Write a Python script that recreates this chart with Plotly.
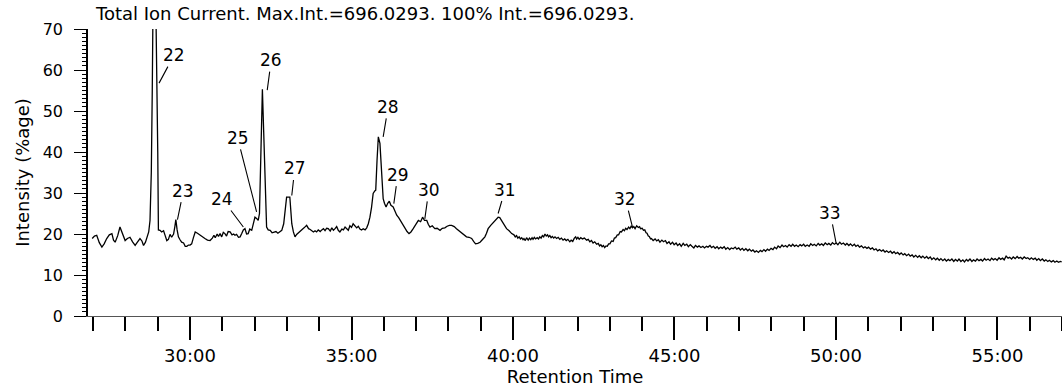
import plotly.graph_objects as go

# ---- data (time in minutes, intensity in %) ----
time_a = [
    26.97, 27.04, 27.11, 27.19, 27.27, 27.34, 27.42, 27.50, 27.58, 27.63, 27.68, 27.76, 27.83, 27.91, 27.99,
    28.06, 28.14, 28.22, 28.30, 28.37, 28.45, 28.51, 28.56, 28.62, 28.68, 28.72, 28.76, 28.80, 28.83, 28.86,
    28.88, 28.92, 28.95, 28.98, 29.00, 29.02, 29.07, 29.12, 29.18, 29.23, 29.28, 29.33, 29.38, 29.43, 29.49,
    29.53, 29.56, 29.60, 29.64, 29.69, 29.74, 29.80, 29.85, 29.90, 29.95, 30.00, 30.05, 30.10, 30.16, 30.23,
    30.31, 30.38, 30.46, 30.54, 30.62, 30.69, 30.74, 30.78, 30.84, 30.88, 30.93, 30.98, 31.03, 31.08, 31.13,
    31.18, 31.24, 31.30, 31.35, 31.39, 31.44, 31.50, 31.55, 31.60, 31.65, 31.70, 31.75, 31.80, 31.85, 31.91,
    31.96, 32.01, 32.06, 32.11, 32.15, 32.19, 32.24, 32.28, 32.31, 32.34, 32.37, 32.42, 32.48, 32.54, 32.60,
    32.66, 32.72, 32.78, 32.84, 32.90, 32.94, 32.98, 32.99, 33.09, 33.12, 33.15, 33.20, 33.25, 33.30, 33.36,
    33.41, 33.47, 33.53, 33.61, 33.67, 33.72, 33.77, 33.82, 33.87, 33.92, 33.97, 34.03, 34.08, 34.13, 34.18,
    34.23, 34.28, 34.34, 34.39, 34.44, 34.49, 34.54, 34.59, 34.64, 34.70, 34.75, 34.80, 34.85, 34.90, 34.95,
    35.00, 35.05, 35.10, 35.16, 35.21, 35.26, 35.31, 35.36, 35.42, 35.47, 35.52, 35.57, 35.62, 35.67, 35.72,
    35.75, 35.79, 35.83, 35.88, 35.91, 35.93, 35.98, 36.02, 36.07, 36.12, 36.17, 36.22, 36.29, 36.35, 36.40,
    36.46, 36.52, 36.55, 36.60, 36.65, 36.72, 36.78, 36.84, 36.91, 36.98, 37.07, 37.14, 37.20, 37.26, 37.33,
    37.38, 37.43, 37.50, 37.58, 37.65, 37.74, 37.81, 37.89, 37.96, 38.03, 38.10, 38.18, 38.25, 38.33, 38.41,
    38.49, 38.56, 38.64, 38.72, 38.78, 38.84, 38.91, 38.98, 39.05, 39.13, 39.18, 39.23, 39.31, 39.39, 39.46,
    39.54, 39.59, 39.65, 39.72, 39.80, 39.88, 39.96,
]
intensity_a = [
    18.9, 19.5, 19.7, 17.9, 16.8, 17.6, 18.9, 19.8, 20.1, 18.5, 18.0, 19.6, 21.7, 19.8, 18.4,
    18.9, 19.2, 18.1, 17.2, 18.0, 18.9, 18.3, 17.2, 18.0, 19.3, 20.5, 23.3, 35.0, 55.0, 85.0,
    100.0, 95.0, 70.0, 57.0, 40.0, 21.0, 20.9, 20.5, 20.8, 19.6, 18.4, 18.7, 19.9, 19.2, 20.0,
    21.8, 23.5, 21.0, 19.3, 18.6, 18.0, 17.8, 17.0, 17.0, 17.3, 17.3, 17.6, 19.0, 20.5, 20.2,
    19.7, 19.2, 18.9, 18.5, 18.4, 19.0, 19.7, 19.1, 20.0, 19.4, 20.1, 19.3, 20.4, 20.1, 19.5,
    20.6, 20.5, 19.8, 20.0, 19.7, 19.9, 19.2, 19.3, 20.1, 21.0, 21.3, 20.0, 20.1, 21.2, 20.9,
    22.5, 24.1, 23.8, 23.3, 25.0, 38.0, 55.3, 45.0, 36.4, 28.0, 21.7, 21.0, 20.9, 20.3, 20.5,
    20.6, 20.2, 20.5, 20.9, 22.5, 25.0, 28.5, 29.0, 29.0, 26.0, 22.5, 20.5, 19.3, 19.9, 20.3,
    20.5, 21.0, 21.5, 22.1, 21.3, 21.1, 20.9, 20.5, 20.8, 20.5, 21.0, 20.6, 21.0, 21.3, 20.8,
    21.4, 21.3, 20.7, 21.5, 20.9, 21.3, 21.8, 20.9, 20.5, 21.2, 21.0, 21.7, 21.3, 20.9, 22.0,
    21.6, 22.5, 22.0, 21.5, 21.9, 21.2, 21.0, 21.3, 21.0, 21.5, 22.5, 24.1, 26.5, 29.9, 30.5,
    30.7, 38.0, 43.7, 42.1, 37.0, 33.9, 28.6, 27.5, 26.6, 27.5, 28.0, 27.0, 26.6, 25.5, 24.6,
    24.0, 23.2, 22.9, 22.0, 21.3, 20.6, 20.1, 20.5, 21.3, 22.3, 23.3, 23.0, 24.1, 23.3, 23.3,
    22.3, 21.7, 22.0, 21.3, 21.4, 20.9, 21.4, 21.5, 21.9, 22.1, 22.1, 21.8, 21.3, 20.8, 20.1,
    19.7, 19.3, 19.2, 18.9, 18.2, 17.6, 17.7, 18.0, 18.6, 19.3, 20.2, 21.3, 22.1, 22.9, 23.5,
    24.1, 24.0, 23.3, 22.2, 21.3, 20.8, 20.1,
]

time_b = [
    40.03, 40.07, 40.11, 40.15, 40.19, 40.23, 40.27, 40.31, 40.34, 40.38,
    40.42, 40.47, 40.51, 40.55, 40.59, 40.62, 40.66, 40.70, 40.75, 40.79,
    40.83, 40.87, 40.91, 40.95, 40.99, 41.03, 41.07, 41.10, 41.14, 41.18,
    41.22, 41.26, 41.30, 41.35, 41.40, 41.45, 41.50, 41.55, 41.60, 41.65,
    41.70, 41.76, 41.80, 41.85, 41.90, 41.94, 41.97, 42.01, 42.05, 42.10,
    42.15, 42.21, 42.28, 42.33, 42.38, 42.43, 42.48, 42.53, 42.59, 42.64,
    42.68, 42.72, 42.76, 42.80, 42.84, 42.88, 42.92, 42.96, 43.00, 43.05,
    43.10, 43.14, 43.18, 43.23, 43.27, 43.32, 43.36, 43.41, 43.45, 43.49,
    43.53, 43.58, 43.62, 43.66, 43.70, 43.74, 43.78, 43.83, 43.88, 43.92,
    43.95, 44.00, 44.04, 44.08, 44.12, 44.15, 44.19, 44.22, 44.26,
]
intensity_b = [
    19.8, 19.3, 19.6, 19.0, 19.3, 18.8, 19.1, 18.6, 18.9, 18.4,
    19.1, 18.5, 19.0, 18.6, 19.1, 18.7, 19.2, 18.8, 19.1, 18.8,
    19.3, 19.0, 19.6, 19.3, 20.0, 19.5, 19.8, 19.3, 19.6, 19.1,
    19.4, 19.0, 19.3, 18.9, 19.2, 18.7, 19.0, 18.5, 18.8, 18.4,
    18.7, 18.1, 18.5, 18.2, 19.0, 19.3, 18.8, 19.2, 18.7, 19.1,
    18.8, 19.0, 18.5, 18.7, 18.1, 18.4, 17.8, 18.1, 17.5, 17.7,
    17.1, 17.4, 16.9, 17.2, 16.7, 17.1, 17.0, 17.6, 17.6, 18.3,
    18.2, 19.0, 19.1, 19.8, 19.8, 20.6, 20.5, 21.1, 20.8, 21.4,
    21.1, 21.7, 21.3, 21.9, 21.5, 21.8, 21.3, 22.0, 21.6, 21.8,
    21.3, 21.4, 20.9, 21.0, 20.3, 20.2, 19.5, 19.4, 18.8,
]

time_c = [
    44.29, 44.34, 44.40, 44.45, 44.50, 44.55, 44.61, 44.66, 44.72, 44.77,
    44.83, 44.88, 44.94, 44.99, 45.05, 45.10, 45.16, 45.21, 45.27, 45.32,
    45.38, 45.43, 45.49, 45.54, 45.60, 45.65, 45.71, 45.76, 45.82, 45.88,
    45.93, 45.99, 46.04, 46.10, 46.15, 46.21, 46.26, 46.32, 46.37, 46.43,
    46.48, 46.54, 46.59, 46.65, 46.71, 46.76, 46.82, 46.88, 46.93, 46.99,
    47.04, 47.10, 47.15, 47.21, 47.27, 47.32, 47.38, 47.43, 47.49, 47.54,
    47.60, 47.66, 47.71, 47.77, 47.82, 47.88, 47.93, 47.99, 48.05, 48.10,
    48.16, 48.21, 48.27, 48.33, 48.38, 48.44, 48.49, 48.55, 48.61, 48.66,
    48.72, 48.77, 48.83, 48.89, 48.94, 49.00, 49.05, 49.11, 49.17, 49.22,
    49.28, 49.33, 49.39, 49.45, 49.50, 49.56, 49.61, 49.67, 49.73, 49.78,
    49.84, 49.89, 49.95, 50.01, 50.06, 50.12, 50.17, 50.23, 50.29, 50.34,
    50.40, 50.45, 50.51, 50.57, 50.62, 50.68, 50.73, 50.79, 50.85, 50.90,
    50.96, 51.01, 51.07, 51.13, 51.18, 51.24, 51.29, 51.35, 51.41, 51.46,
    51.52, 51.57, 51.63, 51.69, 51.74, 51.80, 51.85, 51.91, 51.97, 52.02,
    52.08, 52.13, 52.19, 52.25, 52.30, 52.36, 52.41, 52.47, 52.53, 52.58,
    52.64, 52.69, 52.75, 52.81, 52.86, 52.92, 52.97, 53.03, 53.09, 53.14,
    53.20, 53.25, 53.31, 53.37, 53.42, 53.48, 53.53, 53.59, 53.65, 53.70,
    53.76, 53.81, 53.87, 53.93, 53.98, 54.04, 54.09, 54.15, 54.21, 54.26,
    54.32, 54.37, 54.43, 54.49, 54.54, 54.60, 54.65, 54.71, 54.77, 54.82,
    54.88, 54.93, 54.99, 55.05, 55.10, 55.16, 55.21, 55.27, 55.33, 55.38,
    55.44, 55.49, 55.55, 55.61, 55.66, 55.72, 55.77, 55.83, 55.89, 55.94,
    56.00, 56.05, 56.11, 56.17, 56.22, 56.28, 56.33, 56.39, 56.45, 56.50,
    56.56, 56.61, 56.67, 56.73, 56.78, 56.84, 56.89, 56.95, 56.99,
]
intensity_c = [
    18.9, 18.4, 18.8, 18.3, 18.6, 18.0, 18.5, 18.1, 18.4, 17.7,
    18.1, 17.5, 18.0, 17.4, 17.8, 17.2, 17.6, 17.0, 17.7, 17.2,
    17.5, 16.9, 17.4, 17.0, 16.6, 17.2, 16.8, 17.1, 16.7, 17.0,
    16.6, 17.0, 16.8, 17.2, 16.7, 17.0, 16.5, 16.9, 16.4, 16.8,
    16.5, 16.9, 16.3, 16.7, 16.2, 16.6, 16.4, 16.8, 16.3, 16.6,
    16.1, 16.5, 16.0, 16.4, 15.9, 16.3, 15.8, 16.1, 15.6, 15.9,
    15.5, 16.0, 15.7, 16.2, 15.8, 16.3, 16.0, 16.5, 16.2, 16.8,
    16.4, 17.1, 16.7, 17.3, 16.9, 17.2, 16.8, 17.4, 17.0, 17.5,
    17.0, 17.3, 16.9, 17.4, 17.1, 17.5, 17.0, 17.3, 17.0, 17.6,
    17.2, 17.5, 17.1, 17.7, 17.3, 17.6, 17.2, 17.8, 17.4, 17.7,
    17.3, 17.9, 17.5, 17.8, 17.4, 18.0, 17.5, 17.8, 17.3, 17.7,
    17.2, 17.6, 17.1, 17.5, 17.0, 17.3, 16.8, 17.1, 16.6, 16.9,
    16.5, 16.8, 16.3, 16.6, 16.1, 16.4, 15.9, 16.2, 15.8, 16.1,
    15.6, 15.9, 15.5, 15.8, 15.3, 15.7, 15.2, 15.5, 15.0, 15.4,
    14.9, 15.2, 14.7, 15.1, 14.6, 14.9, 14.4, 14.8, 14.3, 14.7,
    14.2, 14.6, 14.1, 14.5, 14.0, 14.4, 13.8, 14.2, 13.7, 14.1,
    13.6, 14.0, 13.5, 13.9, 13.4, 13.8, 13.5, 13.9, 13.3, 13.8,
    13.4, 13.9, 13.3, 13.7, 13.2, 13.8, 13.4, 13.9, 13.3, 13.7,
    13.4, 13.9, 13.5, 13.8, 13.4, 14.0, 13.6, 13.9, 13.5, 14.1,
    13.7, 14.0, 13.6, 14.2, 13.8, 14.1, 13.7, 14.6, 14.1, 14.3,
    13.9, 14.4, 14.0, 14.5, 14.1, 14.3, 13.9, 14.4, 14.0, 14.2,
    13.8, 14.2, 13.8, 14.1, 13.6, 14.0, 13.5, 13.9, 13.4, 13.7,
    13.3, 13.6, 13.2, 13.5, 13.1, 13.4, 13.1, 13.3, 13.2,
]

peak_labels = ["22", "23", "24", "25", "26", "27", "28", "29", "30", "31", "32", "33"]
peak_times = [29.04, 29.61, 31.65, 32.06, 32.39, 33.15, 35.98, 36.31, 37.27, 39.54, 43.70, 50.01]
peak_values = [56.8, 23.5, 21.7, 25.4, 55.1, 29.4, 43.7, 27.4, 23.7, 25.0, 21.7, 17.6]

x_tick_vals = [30, 35, 40, 45, 50, 55]
x_tick_text = ["30:00", "35:00", "40:00", "45:00", "50:00", "55:00"]
y_tick_vals = [0, 10, 20, 30, 40, 50, 60, 70]
y_tick_text = ["0", "10", "20", "30", "40", "50", "60", "70"]

title_text = "Total Ion Current. Max.Int.=696.0293. 100% Int.=696.0293."
x_title = "Retention Time"
y_title = "Intensity (%age)"

# label placement offsets (pixels from the arrow tip to the label centre)
label_dx = [15, 6, -21, -19, 4, 3, 5, 4, 4, 7, -7, -6]
label_dy = [-28, -29, -28, -74, -30, -27, -30, -29, -29, -24, -28, -31]

time_min = time_a + time_b + time_c
intensity_pct = intensity_a + intensity_b + intensity_c
assert len(time_min) == len(intensity_pct)

FONT = "DejaVu Sans"

fig = go.Figure()
fig.add_trace(go.Scatter(
    x=time_min, y=intensity_pct, mode="lines",
    line=dict(color="black", width=1.3), hoverinfo="skip", showlegend=False,
))

for lab, t, v, dx, dy in zip(peak_labels, peak_times, peak_values, label_dx, label_dy):
    fig.add_annotation(
        x=t, y=v, text=lab, showarrow=True, arrowhead=0, arrowwidth=1.1,
        arrowcolor="black", ax=dx, ay=dy, axref="pixel", ayref="pixel",
        font=dict(family=FONT, size=17, color="black"),
    )

fig.update_layout(
    width=1062, height=392,
    margin=dict(l=88, r=0, t=29, b=76),
    paper_bgcolor="white", plot_bgcolor="white",
    title=dict(text=title_text, x=96 / 1062, xref="container", xanchor="left",
               y=1 - 14 / 392, yref="container", yanchor="middle",
               font=dict(family=FONT, size=18, color="black")),
    font=dict(family=FONT, color="black"),
    xaxis=dict(
        range=[26.84, 57.0], automargin=False,
        showline=True, linecolor="#555555", linewidth=1,
        showgrid=False, zeroline=False,
        ticks="outside", ticklen=23, tickwidth=2, tickcolor="black",
        tickvals=x_tick_vals, ticktext=x_tick_text,
        tickfont=dict(family=FONT, size=18, color="black"),
        minor=dict(dtick=1, tick0=0, ticks="outside", ticklen=14, tickwidth=2, tickcolor="black"),
        title=dict(text=x_title, font=dict(family=FONT, size=18, color="black"), standoff=4),
    ),
    yaxis=dict(
        range=[0, 70], automargin=False,
        showline=True, linecolor="black", linewidth=1.5,
        showgrid=False, zeroline=False,
        ticks="outside", ticklen=12, tickwidth=1, tickcolor="black",
        tickvals=y_tick_vals, ticktext=y_tick_text,
        tickfont=dict(family=FONT, size=16, color="black"),
        ticklabelstandoff=8,
        minor=dict(dtick=1, tick0=0, ticks="outside", ticklen=4, tickwidth=1, tickcolor="black"),
        title=dict(text=y_title, font=dict(family=FONT, size=18, color="black"), standoff=8),
    ),
)

fig.write_html("out.html")
